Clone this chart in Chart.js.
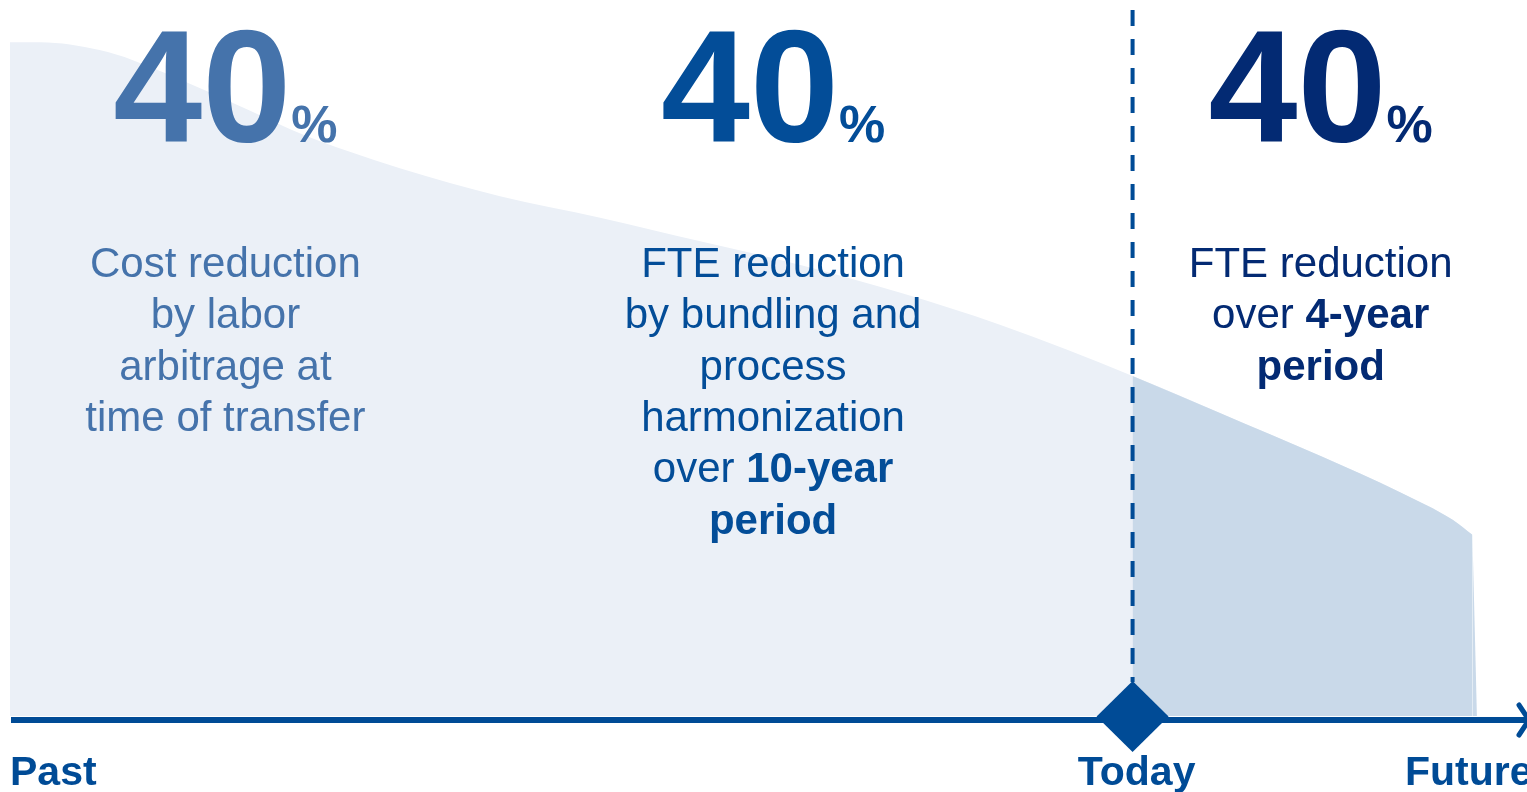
<!DOCTYPE html>
<html>
<head>
<meta charset="utf-8">
<script src="https://cdn.jsdelivr.net/npm/chart.js@4.4.1/dist/chart.umd.min.js"></script>
<style>
  html, body { margin: 0; padding: 0; background: #fff; overflow: hidden; }
  #chart { display: block; }
</style>
</head>
<body>
<canvas id="chart" width="1527" height="792"></canvas>
<script>
// position on the timeline (0 = past, 100 = future) and remaining cost level
const timeline  = [0, 2.0, 5.9, 8.1, 12.5, 16.9, 19.1, 22.4, 25.7, 32.3, 38.9, 45.5, 52.1, 58.7, 65.3, 74.0, 79.8, 86.4, 91.6, 95.1, 96.4];
const costLevel = [94.1, 94.1, 93.0, 91.6, 87.7, 83.5, 81.4, 78.8, 76.5, 72.6, 69.6, 66.3, 63.0, 59.1, 54.6, 47.5, 42.3, 36.3, 31.3, 27.4, 25.3];
const forecastEnd = 96.7;
const todayAt = 74.0;

const axisLabels = ['Past', 'Today', 'Future'];

// the three savings call-outs; **text** is set in bold
const savings = [40, 40, 40];
const notes = [
  ['Cost reduction', 'by labor', 'arbitrage at', 'time of transfer'],
  ['FTE reduction', 'by bundling and', 'process', 'harmonization', 'over **10-year**', '**period**'],
  ['FTE reduction', 'over **4-year**', '**period**']
];

const FONT = '"Liberation Sans", Arial, sans-serif';
const AXIS_BLUE = '#004B96';

const points = timeline.map((t, i) => ({ x: t, y: costLevel[i] }));
const futurePoints = points.filter(p => p.x >= todayAt);
const last = points[points.length - 1];

function drawRuns(ctx, text, cx, baseline, size) {
  const runs = text.split('**').map((s, i) => ({ s, bold: i % 2 === 1 })).filter(r => r.s);
  let total = 0;
  runs.forEach(r => {
    ctx.font = (r.bold ? 'bold ' : '') + size + 'px ' + FONT;
    r.w = ctx.measureText(r.s).width;
    total += r.w;
  });
  let xPos = cx - total / 2;
  runs.forEach(r => {
    ctx.font = (r.bold ? 'bold ' : '') + size + 'px ' + FONT;
    ctx.fillText(r.s, xPos, baseline);
    xPos += r.w;
  });
}

const timelinePlugin = {
  id: 'timeline',
  afterDatasetsDraw(chart, args, opts) {
    const { ctx, chartArea, scales: { x, y } } = chart;
    const base = y.getPixelForValue(0) + 4;
    const todayX = x.getPixelForValue(todayAt);
    ctx.save();

    // dashed marker for today
    ctx.strokeStyle = AXIS_BLUE;
    ctx.lineWidth = 4;
    ctx.setLineDash([16, 13]);
    ctx.beginPath();
    ctx.moveTo(todayX, 10);
    ctx.lineTo(todayX, base - 38);
    ctx.stroke();
    ctx.setLineDash([]);

    // time axis with open arrow head
    ctx.lineWidth = 6;
    ctx.beginPath();
    ctx.moveTo(chartArea.left + 1, base);
    ctx.lineTo(chartArea.right, base);
    ctx.stroke();
    ctx.lineWidth = 5;
    ctx.lineCap = 'round';
    ctx.lineJoin = 'round';
    ctx.beginPath();
    ctx.moveTo(chartArea.right - 8, base - 15);
    ctx.lineTo(chartArea.right + 2, base);
    ctx.lineTo(chartArea.right - 8, base + 15);
    ctx.stroke();

    // diamond on the axis at today
    ctx.fillStyle = AXIS_BLUE;
    ctx.beginPath();
    ctx.moveTo(todayX, base - 39);
    ctx.lineTo(todayX + 36, base - 3.5);
    ctx.lineTo(todayX, base + 32);
    ctx.lineTo(todayX - 36, base - 3.5);
    ctx.closePath();
    ctx.fill();

    // axis labels
    ctx.font = 'bold 41px ' + FONT;
    ctx.textBaseline = 'alphabetic';
    ctx.textAlign = 'left';
    ctx.fillText(axisLabels[0], chartArea.left, 785);
    ctx.textAlign = 'center';
    ctx.fillText(axisLabels[1], todayX + 4, 785);
    ctx.textAlign = 'left';
    ctx.fillText(axisLabels[2], chartArea.right - 122, 785);

    // call-outs
    opts.centers.forEach((c, i) => {
      const cx = x.getPixelForValue(c);
      ctx.fillStyle = opts.colors[i];
      ctx.textAlign = 'left';
      ctx.font = 'bold 160px ' + FONT;
      const num = String(savings[i]);
      const wNum = ctx.measureText(num).width;
      ctx.font = 'bold 52px ' + FONT;
      const wPct = ctx.measureText('%').width;
      const start = cx - (wNum + wPct) / 2;
      ctx.font = 'bold 160px ' + FONT;
      ctx.fillText(num, start, 141);
      ctx.font = 'bold 52px ' + FONT;
      ctx.fillText('%', start + wNum, 142);

      notes[i].forEach((line, j) => {
        drawRuns(ctx, line, cx, 277 + j * 51.3, 42);
      });
    });
    ctx.restore();
  }
};

new Chart(document.getElementById('chart').getContext('2d'), {
  type: 'line',
  data: {
    datasets: [
      {
        data: points,
        fill: 'origin',
        backgroundColor: '#EBF0F7',
        borderColor: 'transparent',
        borderWidth: 0,
        cubicInterpolationMode: 'monotone',
        order: 3
      },
      {
        data: futurePoints,
        fill: 'origin',
        backgroundColor: '#C9D9E9',
        borderColor: 'transparent',
        borderWidth: 0,
        cubicInterpolationMode: 'monotone',
        order: 1
      },
      {
        // steep drop at the end of the forecast
        data: [{ x: last.x, y: last.y }, { x: forecastEnd, y: 0 }],
        fill: 'origin',
        backgroundColor: '#C9D9E9',
        borderColor: 'transparent',
        borderWidth: 0,
        tension: 0,
        order: 2
      }
    ]
  },
  options: {
    responsive: false,
    animation: false,
    layout: { padding: { left: 10, right: 0, top: 0, bottom: 76 } },
    elements: { point: { radius: 0, hoverRadius: 0 } },
    scales: {
      x: { type: 'linear', min: 0, max: 100, display: false },
      y: { min: 0, max: 100, display: false }
    },
    plugins: {
      legend: { display: false },
      tooltip: { enabled: false },
      timeline: {
        centers: [14.2, 50.3, 86.4],
        colors: ['#4573AB', '#034D98', '#032A73']
      }
    }
  },
  plugins: [timelinePlugin]
});
</script>
</body>
</html>
